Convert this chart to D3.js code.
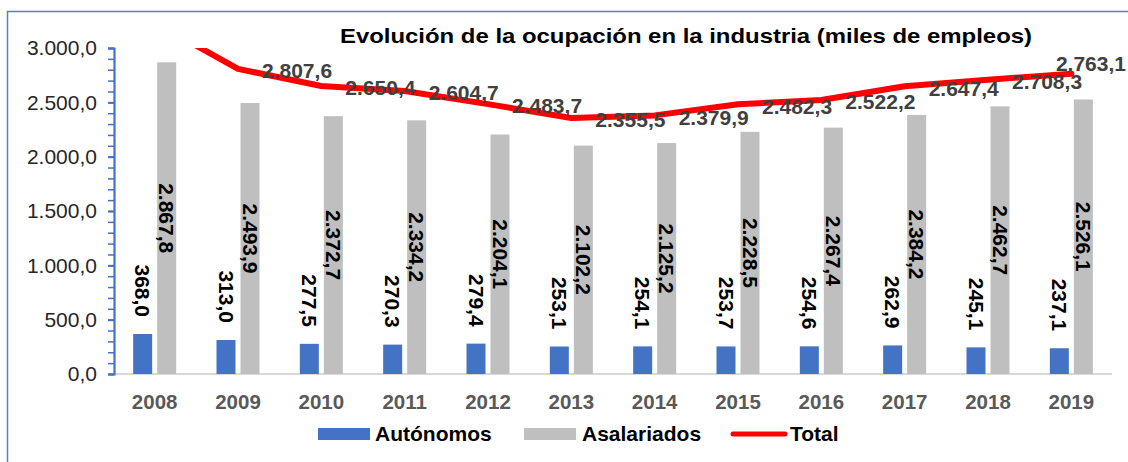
<!DOCTYPE html>
<html>
<head>
<meta charset="utf-8">
<script src="https://cdn.jsdelivr.net/npm/d3@7"></script>
<style>
  html, body { margin: 0; padding: 0; background: #fff; }
  svg { display: block; font-family: "Liberation Sans", Arial, sans-serif; }
</style>
</head>
<body>
<svg id="chart" width="1128" height="462"></svg>
<script>
// Ocupación en la industria, miles de empleos
const years = ["2008", "2009", "2010", "2011", "2012", "2013", "2014", "2015", "2016", "2017", "2018", "2019"];
const autonomos = [368.0, 313.0, 277.5, 270.3, 279.4, 253.1, 254.1, 253.7, 254.6, 262.9, 245.1, 237.1];
const asalariados = [2867.8, 2493.9, 2372.7, 2334.2, 2204.1, 2102.2, 2125.2, 2228.5, 2267.4, 2384.2, 2462.7, 2526.1];
const total = [3235.8, 2807.6, 2650.4, 2604.7, 2483.7, 2355.5, 2379.9, 2482.3, 2522.2, 2647.4, 2708.3, 2763.1];
const yMajorTicks = [0, 500, 1000, 1500, 2000, 2500, 3000];
const seriesNames = ["Autónomos", "Asalariados", "Total"];
const titleText = "Evolución de la ocupación en la industria (miles de empleos)";

const colors = { autonomos: "#4472C4", asalariados: "#BFBFBF", total: "#FF0000" };

const locale = d3.formatLocale({ decimal: ",", thousands: ".", grouping: [3], currency: ["", " €"] });
const fmt = locale.format(",.1f");

const svg = d3.select("#chart");
const W = 1128, H = 462;
const plot = { left: 113, right: 1113, top: 48, bottom: 374 };

svg.append("rect").attr("width", W).attr("height", H).attr("fill", "#fff");

// chart frame (runs off the right and bottom edges)
svg.append("rect")
  .attr("x", 7.5).attr("y", 11.5)
  .attr("width", W + 20).attr("height", H + 20)
  .attr("fill", "none").attr("stroke", "#4F81D0").attr("stroke-width", 1.5);

const x = d3.scaleBand().domain(years).range([plot.left, plot.right]);
const y = d3.scaleLinear().domain([0, 3000]).range([plot.bottom, plot.top]);

// title
svg.append("text")
  .attr("x", 340).attr("y", 43)
  .attr("font-size", 21).attr("font-weight", "bold").attr("fill", "#000")
  .attr("textLength", 692).attr("lengthAdjust", "spacingAndGlyphs")
  .text(titleText);

// category baseline
svg.append("line")
  .attr("x1", plot.left).attr("x2", plot.right - 1)
  .attr("y1", y(0)).attr("y2", y(0))
  .attr("stroke", "#D9D9D9").attr("stroke-width", 2);

// category labels
const xAxis = svg.append("g")
  .attr("transform", `translate(0,${y(0)})`)
  .call(d3.axisBottom(x).tickSize(0).tickPadding(20));
xAxis.select(".domain").remove();
xAxis.selectAll("text")
  .attr("font-family", "Liberation Sans, Arial, sans-serif")
  .attr("font-size", 20.5).attr("font-weight", "bold").attr("fill", "#595959")
  .attr("dy", "0.71em");

// value axis: minor ticks every 100, labelled majors every 500
const minorAxis = svg.append("g")
  .attr("transform", `translate(${plot.left + 1},0)`)
  .call(d3.axisLeft(y).tickValues(d3.range(0, 3001, 100)).tickSize(6).tickFormat(""));
minorAxis.selectAll("line").attr("stroke", "#4472C4").attr("stroke-width", 1.5);
minorAxis.select(".domain").attr("stroke", "#4472C4").attr("stroke-width", 2.2);

const yAxis = svg.append("g")
  .attr("transform", `translate(${plot.left + 1},0)`)
  .call(d3.axisLeft(y).tickValues(yMajorTicks).tickSize(6).tickPadding(11).tickFormat(fmt));
yAxis.select(".domain").remove();
yAxis.selectAll("line").attr("stroke", "#4472C4").attr("stroke-width", 2);
yAxis.selectAll("text")
  .attr("font-family", "Liberation Sans, Arial, sans-serif")
  .attr("font-size", 21).attr("fill", "#262626");

// bars
const barW = 19, gap = 5;
const cx = d => x(d) + x.bandwidth() / 2;
const barsA = years.map((yr, i) => ({ yr, v: autonomos[i], x0: cx(yr) - gap / 2 - barW }));
const barsS = years.map((yr, i) => ({ yr, v: asalariados[i], x0: cx(yr) + gap / 2 }));

svg.append("g").selectAll("rect").data(barsA).join("rect")
  .attr("x", d => d.x0).attr("width", barW)
  .attr("y", d => y(d.v)).attr("height", d => y(0) - y(d.v))
  .attr("fill", colors.autonomos);

svg.append("g").selectAll("rect").data(barsS).join("rect")
  .attr("x", d => d.x0).attr("width", barW)
  .attr("y", d => y(d.v)).attr("height", d => y(0) - y(d.v))
  .attr("fill", colors.asalariados);

// bar value labels, rotated
svg.append("g").selectAll("text").data(barsA).join("text")
  .attr("transform", d => `translate(${d.x0 + barW / 2},${y(d.v) - 17}) rotate(90)`)
  .attr("text-anchor", "end").attr("dy", "0.35em")
  .attr("font-size", 21).attr("font-weight", "bold").attr("fill", "#000")
  .text(d => fmt(d.v));

svg.append("g").selectAll("text").data(barsS).join("text")
  .attr("transform", d => `translate(${d.x0 + barW / 2},${(y(d.v) + y(0)) / 2}) rotate(90)`)
  .attr("text-anchor", "middle").attr("dy", "0.35em")
  .attr("font-size", 21).attr("font-weight", "bold").attr("fill", "#000")
  .text(d => fmt(d.v));

// total line, clipped to the plot area
svg.append("clipPath").attr("id", "plotClip")
  .append("rect")
  .attr("x", plot.left).attr("y", plot.top)
  .attr("width", plot.right - plot.left).attr("height", plot.bottom - plot.top);

const pts = years.map((yr, i) => ({ yr, v: total[i], px: cx(yr), py: y(total[i]) }));
svg.append("path")
  .datum(pts)
  .attr("clip-path", "url(#plotClip)")
  .attr("fill", "none").attr("stroke", colors.total)
  .attr("stroke-width", 6).attr("stroke-linejoin", "round").attr("stroke-linecap", "round")
  .attr("d", d3.line().x(d => d.px).y(d => d.py));

// total labels to the right of each visible point; the last one sits above, kept inside the frame
const visible = pts.filter(d => d.py >= plot.top);
const totalLabels = svg.append("g").selectAll("text").data(visible).join("text")
  .attr("x", d => d.px + 24)
  .attr("y", d => d.py + 2)
  .attr("dy", "0.35em")
  .attr("font-size", 21).attr("font-weight", "bold").attr("fill", "#404040")
  .text(d => fmt(d.v));
const lastLabel = totalLabels.filter((d, i) => i === visible.length - 1);
lastLabel.each(function (d) {
  const w = this.getComputedTextLength();
  d3.select(this)
    .attr("x", Math.min(d.px - 8, W - 2 - w))
    .attr("y", d.py - 10);
});

// legend
const legend = svg.append("g");
const legY = 434;
legend.append("rect").attr("x", 318).attr("y", legY - 6).attr("width", 52).attr("height", 12).attr("fill", colors.autonomos);
legend.append("text").attr("x", 375).attr("y", legY).attr("dy", "0.35em")
  .attr("font-size", 21).attr("font-weight", "bold").attr("fill", "#000").text(seriesNames[0]);
legend.append("rect").attr("x", 524).attr("y", legY - 6).attr("width", 52).attr("height", 12).attr("fill", colors.asalariados);
legend.append("text").attr("x", 582).attr("y", legY).attr("dy", "0.35em")
  .attr("font-size", 21).attr("font-weight", "bold").attr("fill", "#000").text(seriesNames[1]);
legend.append("line").attr("x1", 733).attr("x2", 785).attr("y1", legY).attr("y2", legY)
  .attr("stroke", colors.total).attr("stroke-width", 5).attr("stroke-linecap", "round");
legend.append("text").attr("x", 790).attr("y", legY).attr("dy", "0.35em")
  .attr("font-size", 21).attr("font-weight", "bold").attr("fill", "#000").text(seriesNames[2]);
</script>
</body>
</html>
